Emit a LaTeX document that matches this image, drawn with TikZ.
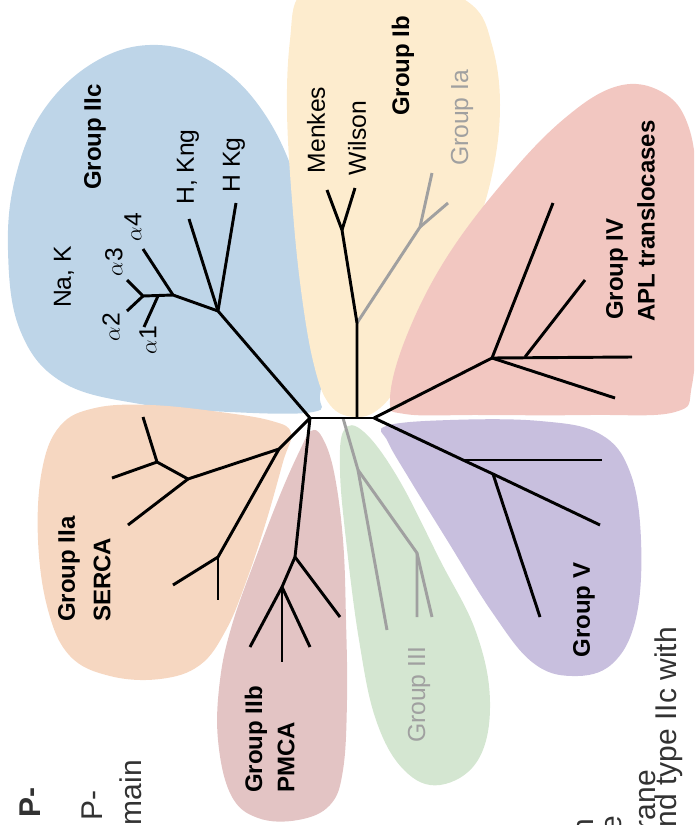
\documentclass[tikz,border=0pt]{standalone}
\usepackage{fontspec}
\setmainfont{Liberation Sans}
\definecolor{pblue}{RGB}{190,213,232}
\definecolor{pyellow}{RGB}{253,236,206}
\definecolor{ppink}{RGB}{242,199,193}
\definecolor{ppurple}{RGB}{200,191,222}
\definecolor{pgreen}{RGB}{212,230,209}
\definecolor{pmauve}{RGB}{227,196,196}
\definecolor{ppeach}{RGB}{246,215,193}
\definecolor{treegray}{RGB}{160,160,160}
\definecolor{capgray}{RGB}{50,50,50}
\begin{document}
\begin{tikzpicture}[x=0.75pt,y=-0.75pt,
  br/.style={line width=2.2pt, draw=black, line join=round},
  gr/.style={line width=2.2pt, draw=treegray, line join=round},
  petal/.style={smooth cycle, tension=0.65},
  lab/.style={rotate=90, inner sep=0pt, font=\fontsize{18.5}{20}\selectfont},
  blab/.style={rotate=90, inner sep=0pt, font=\fontsize{18}{20}\selectfont\bfseries},
  captxt/.style={rotate=90, inner sep=0pt, anchor=east, text=capgray, font=\fontsize{22.5}{24}\selectfont}]
\useasboundingbox (0,0) rectangle (694,825);
\clip (0,0) rectangle (694,825);

% ---------- petals ----------
\fill[pblue] plot[petal] coordinates {(313,412) (230,412) (140,404) (62,382) (20,330) (8,250) (16,175) (45,108) (98,60) (158,45) (215,64) (262,110) (296,180) (316,265) (323,345) (320,395)};
\fill[pyellow] plot[petal] coordinates {(300,-5) (290,40) (287,110) (292,200) (301,290) (314,365) (330,405) (355,417) (380,408) (405,375) (438,315) (470,245) (492,175) (500,105) (492,45) (472,5) (420,-15) (340,-15)};
\fill[ppink] plot[petal] coordinates {(390,400) (405,340) (445,260) (505,180) (565,118) (618,86) (662,92) (688,125) (697,190) (697,300) (692,385) (675,412) (590,415) (480,415) (405,414)};
\fill[ppurple] plot[petal] coordinates {(386,426) (450,420) (540,421) (600,434) (630,472) (641,540) (636,618) (612,664) (572,676) (532,662) (492,612) (447,540) (410,480) (388,442)};
\fill[pgreen] plot[petal] coordinates {(344,430) (364,432) (398,478) (440,560) (476,632) (490,702) (478,760) (440,785) (404,770) (376,720) (359,640) (346,540) (340,470)};
\fill[pmauve] plot[petal] coordinates {(311,431) (322,437) (334,472) (343,540) (346,620) (347,700) (343,770) (330,805) (298,820) (258,818) (231,795) (218,740) (220,680) (232,625) (255,560) (280,495) (300,450)};
\fill[ppeach] plot[petal] coordinates {(291,433) (283,462) (266,522) (246,582) (226,630) (200,665) (160,679) (110,676) (70,656) (48,610) (38,540) (42,470) (60,426) (95,408) (150,405) (220,412) (272,421)};

% ---------- tree coordinates ----------
\coordinate (L) at (310,418);
\coordinate (R) at (374,418);
\coordinate (S1) at (357,418);
\coordinate (G0) at (343,418);
% IIc
\coordinate (A) at (218,311);
\coordinate (hkg) at (236,203);
\coordinate (hkng) at (189,219);
\coordinate (B) at (173,295);
\coordinate (a4) at (143,249);
\coordinate (C) at (143,296);
\coordinate (a3) at (127,280);
\coordinate (a2) at (127,311);
\coordinate (D1) at (158,296);
\coordinate (a1) at (144,327);
% IIa
\coordinate (P1) at (279,449);
\coordinate (P2) at (188,479);
\coordinate (P3) at (157,462);
\coordinate (p3a) at (143,417);
\coordinate (p3b) at (112,478);
\coordinate (p2a) at (128,525);
\coordinate (P4) at (218,557);
\coordinate (p4a) at (173,585);
\coordinate (p4b) at (218,600);
% IIb
\coordinate (M1) at (295,557);
\coordinate (m1a) at (340,617);
\coordinate (M2) at (282,587);
\coordinate (m2a) at (250,647);
\coordinate (m2b) at (282,662);
\coordinate (m2c) at (310,647);
% Ib / Ia
\coordinate (S2) at (357,323);
\coordinate (Y1) at (342,230);
\coordinate (menk) at (327,190);
\coordinate (wils) at (355,188);
\coordinate (Y2) at (420,227);
\coordinate (y2a) at (432,173);
\coordinate (y2b) at (448,203);
% IV
\coordinate (D) at (492,358);
\coordinate (d1) at (553,203);
\coordinate (d2) at (632,357);
\coordinate (d3) at (615,398);
\coordinate (D2) at (525,357);
\coordinate (d4) at (585,280);
% V
\coordinate (V1) at (463,460);
\coordinate (V2) at (493,474);
\coordinate (v0) at (600,525);
\coordinate (v1) at (602,460);
\coordinate (v2) at (540,617);
% III
\coordinate (E) at (358,470);
\coordinate (e1) at (387,630);
\coordinate (F) at (417,553);
\coordinate (f1) at (417,617);
\coordinate (f2) at (432,617);

% ---------- gray branches ----------
\draw[gr] (S2) -- (Y2) -- (y2a);
\draw[gr] (Y2) -- (y2b);
\draw[gr] (G0) -- (E) -- (e1);
\draw[gr] (E) -- (F) -- (f1);
\draw[gr] (F) -- (f2);

% ---------- black branches ----------
\draw[br] (L) -- (R);
\draw[br] (S1) -- (S2) -- (Y1) -- (menk);
\draw[br] (Y1) -- (wils);
\draw[br] (L) -- (A) -- (hkg);
\draw[br] (A) -- (hkng);
\draw[br] (A) -- (B) -- (a4);
\draw[br] (B) -- (C) -- (a3);
\draw[br] (C) -- (a2);
\draw[br] (D1) -- (a1);
\draw[br] (L) -- (P1) -- (P2) -- (P3) -- (p3a);
\draw[br] (P3) -- (p3b);
\draw[br] (P2) -- (p2a);
\draw[br] (P1) -- (P4) -- (p4a);
\draw[br] (P4) -- (p4b);
\draw[br] (L) -- (M1) -- (m1a);
\draw[br] (M1) -- (M2) -- (m2a);
\draw[br] (M2) -- (m2b);
\draw[br] (M2) -- (m2c);
\draw[br] (R) -- (D) -- (d1);
\draw[br] (D) -- (d2);
\draw[br] (D) -- (d3);
\draw[br] (D2) -- (d4);
\draw[br] (R) -- (V1) -- (V2) -- (v0);
\draw[br] (V1) -- (v1);
\draw[br] (V2) -- (v2);

% ---------- labels ----------
\node[blab] (tIIc) at (95,137) {Group IIc};
\node[lab] (tnak) at (64,277) {Na, K};
\node[lab] (ta2) at (111,327) {$\alpha$2};
\node[lab] (ta1) at (148,340) {$\alpha$1};
\node[lab] (ta3) at (114,262) {$\alpha$3};
\node[lab] (ta4) at (133,227) {$\alpha$4};
\node[lab] (thkng) at (188,167) {H, Kng};
\node[lab] (thkg) at (234,165) {H Kg};
\node[lab] (tmenk) at (316,130) {Menkes};
\node[lab] (twils) at (357,138) {Wilson};
\node[blab] (tIb) at (403,66) {Group Ib};
\node[lab, text=treegray] (tIa) at (462,118) {Group Ia};
\node[blab, anchor=west] (tIV) at (617,320) {Group IV};
\node[blab, anchor=west] (tAPL) at (646,322) {APL translocases};
\node[blab, anchor=west] (tIIa) at (69,622) {Group IIa};
\node[blab, anchor=west] (tserca) at (102,622) {SERCA};
\node[blab, anchor=west] (tIIb) at (256,793) {Group IIb};
\node[blab, anchor=west] (tpmca) at (286,793) {PMCA};
\node[lab, text=treegray] (tIII) at (419,695) {Group III};
\node[blab] (tV) at (584,610) {Group V};

% ---------- cropped caption fragments ----------
\node[captxt, font=\fontsize{22.5}{24}\selectfont\bfseries] (c1) at (30,787) {P-};
\node[captxt] (c2) at (92,790) {e P-};
\node[captxt] (c3) at (131,760) {main};
\node[captxt] (c4) at (585,819) {n};
\node[captxt] (c5) at (614,816) {e};
\node[captxt] (c6) at (645,770) {brane};
\node[captxt] (c7) at (669,627) {and type IIc with};
\end{tikzpicture}
\end{document}
